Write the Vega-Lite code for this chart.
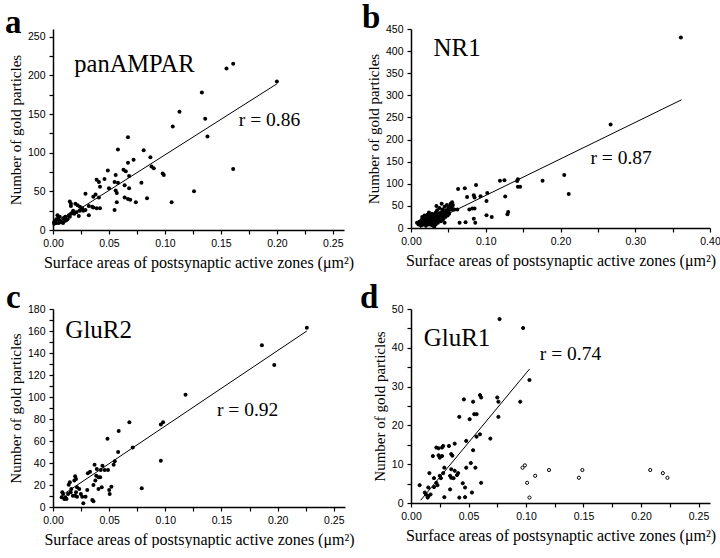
{
  "$schema": "https://vega.github.io/schema/vega-lite/v6.json",
  "background": "white",
  "padding": {"left": 5, "top": 2, "right": 0, "bottom": 0},
  "config": {
    "view": {"stroke": null},
    "scale": {"nice": false},
    "axis": {"grid": false, "tickCount": 100, "domainColor": "black", "domainWidth": 1.5, "tickColor": "black", "tickWidth": 1.2, "tickSize": 4, "labelColor": "black", "labelFont": "Liberation Sans", "labelFontSize": 10.5, "labelPadding": 4, "labelOverlap": false, "labelFlush": false, "titleFont": "Liberation Serif", "titleFontWeight": "normal", "titleColor": "black"},
    "axisX": {"titlePadding": 6, "titleFontSize": 16},
    "axisY": {"titlePadding": 4, "titleFontSize": 15},
    "title": {"font": "Liberation Serif", "fontSize": 33, "fontWeight": "bold", "color": "black", "anchor": "start", "frame": "group", "offset": -11},
    "text": {"font": "Liberation Serif", "color": "black", "align": "left", "baseline": "alphabetic"}
  },
  "datasets": {
    "a": [
      {"x":0.155,"y":209},{"x":0.161,"y":215},{"x":0.200,"y":192},{"x":0.133,"y":178},{"x":0.113,"y":153},{"x":0.136,"y":144},{"x":0.138,"y":121},{"x":0.107,"y":134},{"x":0.161,"y":79},{"x":0.126,"y":50},{"x":0.106,"y":36},
      {"x":0.067,"y":120},{"x":0.058,"y":104},{"x":0.081,"y":103},{"x":0.087,"y":94},{"x":0.072,"y":91},{"x":0.067,"y":87},{"x":0.088,"y":82},{"x":0.090,"y":80},{"x":0.049,"y":77},{"x":0.063,"y":78},{"x":0.065,"y":76},{"x":0.098,"y":73},{"x":0.099,"y":71},{"x":0.068,"y":70},{"x":0.056,"y":71},{"x":0.039,"y":65},{"x":0.041,"y":62},{"x":0.046,"y":66},{"x":0.055,"y":62},{"x":0.058,"y":61},{"x":0.079,"y":61},{"x":0.064,"y":58},{"x":0.042,"y":56},{"x":0.050,"y":54},{"x":0.068,"y":54},{"x":0.056,"y":51},{"x":0.057,"y":48},{"x":0.029,"y":47},{"x":0.038,"y":46},{"x":0.036,"y":43},{"x":0.041,"y":42},{"x":0.064,"y":42},{"x":0.067,"y":40},{"x":0.069,"y":39},{"x":0.084,"y":41},{"x":0.074,"y":36},{"x":0.057,"y":36},
      {"x":0.015,"y":37},{"x":0.016,"y":34},{"x":0.016,"y":31},{"x":0.020,"y":34},{"x":0.022,"y":32},{"x":0.024,"y":30},{"x":0.026,"y":28},{"x":0.027,"y":25},{"x":0.032,"y":31},{"x":0.035,"y":30},{"x":0.036,"y":29},{"x":0.039,"y":28},{"x":0.042,"y":28},{"x":0.055,"y":26},{"x":0.024,"y":25},{"x":0.018,"y":25},{"x":0.017,"y":22},{"x":0.021,"y":23},{"x":0.029,"y":26},{"x":0.032,"y":19},{"x":0.023,"y":18},{"x":0.016,"y":21},{"x":0.014,"y":19},{"x":0.015,"y":17},{"x":0.019,"y":21},{"x":0.011,"y":17},{"x":0.010,"y":16},{"x":0.013,"y":14},{"x":0.011,"y":12},{"x":0.009,"y":15},{"x":0.006,"y":17},{"x":0.004,"y":19},{"x":0.005,"y":16},{"x":0.003,"y":14},{"x":0.002,"y":12},{"x":0.001,"y":10},{"x":0.003,"y":9},{"x":0.006,"y":12},{"x":0.008,"y":11},{"x":0.009,"y":9},{"x":0.005,"y":9},{"x":0.001,"y":8},{"x":0.012,"y":13},{"x":0.007,"y":10}
    ],
    "b": [
      {"x":0.361,"y":431},{"x":0.267,"y":234},{"x":0.205,"y":120},{"x":0.211,"y":77},{"x":0.176,"y":107},{"x":0.143,"y":110},{"x":0.142,"y":106},{"x":0.143,"y":93},{"x":0.146,"y":93},{"x":0.119,"y":107},{"x":0.125,"y":108},{"x":0.126,"y":71},{"x":0.130,"y":36},{"x":0.129,"y":31},
      {"x":0.102,"y":79},{"x":0.101,"y":61},{"x":0.101,"y":29},{"x":0.108,"y":25},{"x":0.087,"y":97},{"x":0.072,"y":90},{"x":0.084,"y":74},{"x":0.085,"y":69},{"x":0.093,"y":72},{"x":0.082,"y":44},{"x":0.085,"y":44},{"x":0.073,"y":13},{"x":0.084,"y":21},{"x":0.086,"y":12},{"x":0.078,"y":42},{"x":0.075,"y":70},{"x":0.065,"y":12},{"x":0.063,"y":88},{"x":0.062,"y":42},{"x":0.058,"y":42},
      {"x":0.008,"y":12},{"x":0.010,"y":8},{"x":0.011,"y":14},{"x":0.012,"y":10},{"x":0.013,"y":6},{"x":0.014,"y":18},{"x":0.015,"y":12},{"x":0.015,"y":25},{"x":0.016,"y":8},{"x":0.017,"y":20},{"x":0.018,"y":15},{"x":0.018,"y":28},{"x":0.019,"y":10},{"x":0.020,"y":22},{"x":0.020,"y":5},{"x":0.021,"y":18},{"x":0.022,"y":30},{"x":0.022,"y":12},{"x":0.023,"y":25},{"x":0.024,"y":8},{"x":0.024,"y":35},{"x":0.025,"y":20},{"x":0.025,"y":15},{"x":0.026,"y":28},{"x":0.027,"y":12},{"x":0.027,"y":22},{"x":0.028,"y":6},{"x":0.028,"y":32},{"x":0.029,"y":18},{"x":0.030,"y":25},{"x":0.030,"y":10},{"x":0.031,"y":3},{"x":0.031,"y":30},{"x":0.032,"y":15},{"x":0.032,"y":22},{"x":0.033,"y":8},{"x":0.033,"y":35},{"x":0.034,"y":28},{"x":0.034,"y":50},{"x":0.035,"y":18},{"x":0.035,"y":40},{"x":0.036,"y":25},{"x":0.036,"y":12},{"x":0.037,"y":32},{"x":0.038,"y":20},{"x":0.038,"y":45},{"x":0.039,"y":28},{"x":0.040,"y":35},{"x":0.040,"y":15},{"x":0.041,"y":55},{"x":0.042,"y":25},{"x":0.042,"y":42},{"x":0.043,"y":30},{"x":0.043,"y":20},{"x":0.044,"y":38},{"x":0.045,"y":48},{"x":0.045,"y":12},{"x":0.046,"y":30},{"x":0.046,"y":25},{"x":0.047,"y":40},{"x":0.048,"y":35},{"x":0.048,"y":52},{"x":0.049,"y":28},{"x":0.050,"y":45},{"x":0.050,"y":38},{"x":0.051,"y":32},{"x":0.052,"y":50},{"x":0.053,"y":55},{"x":0.054,"y":42},{"x":0.055,"y":58},{"x":0.055,"y":48},{"x":0.056,"y":52}
    ],
    "c": [
      {"x":0.226,"y":163},{"x":0.186,"y":147},{"x":0.197,"y":129},{"x":0.118,"y":102},{"x":0.096,"y":75},{"x":0.098,"y":77},{"x":0.096,"y":42},{"x":0.068,"y":77},
      {"x":0.0585,"y":69},{"x":0.0485,"y":62},{"x":0.058,"y":50},{"x":0.071,"y":54},{"x":0.079,"y":17},{"x":0.054,"y":38.5},{"x":0.055,"y":41.5},{"x":0.037,"y":38.5},{"x":0.031,"y":30.6},{"x":0.033,"y":32},{"x":0.0425,"y":33.6},{"x":0.044,"y":37.6},{"x":0.046,"y":33.6},{"x":0.049,"y":33.6},{"x":0.039,"y":34.5},{"x":0.0385,"y":28.5},{"x":0.0405,"y":27},{"x":0.042,"y":27},{"x":0.052,"y":18.5},{"x":0.050,"y":15.5},{"x":0.0505,"y":11.8},{"x":0.036,"y":20},{"x":0.0377,"y":24},{"x":0.0405,"y":16.4},{"x":0.0434,"y":17.9},{"x":0.035,"y":6.4},{"x":0.036,"y":5.2},{"x":0.029,"y":9.4},{"x":0.0305,"y":15.5},{"x":0.027,"y":3.3},{"x":0.0205,"y":25.5},{"x":0.0197,"y":27.9},{"x":0.019,"y":24},{"x":0.015,"y":22.4},{"x":0.014,"y":20.3},{"x":0.0214,"y":17.9},{"x":0.0234,"y":16.4},{"x":0.0163,"y":16.4},{"x":0.0157,"y":13.3},{"x":0.0177,"y":10.3},{"x":0.0134,"y":11.8},{"x":0.011,"y":8.8},{"x":0.0083,"y":13.3},{"x":0.009,"y":11.8},{"x":0.0077,"y":8.8},{"x":0.010,"y":7.3},{"x":0.012,"y":7.3},{"x":0.0248,"y":11.8},{"x":0.026,"y":9.4},{"x":0.0205,"y":13.3},{"x":0.0197,"y":10.3},{"x":0.0214,"y":9.4}
    ],
    "d": [
      {"x":0.077,"y":47.4,"k":"filled"},{"x":0.0975,"y":45.1,"k":"filled"},{"x":0.103,"y":31.7,"k":"filled"},{"x":0.095,"y":26.1,"k":"filled"},{"x":0.046,"y":26.7,"k":"filled"},{"x":0.054,"y":26.1,"k":"filled"},{"x":0.060,"y":27.8,"k":"filled"},{"x":0.061,"y":27.2,"k":"filled"},{"x":0.075,"y":27.2,"k":"filled"},{"x":0.076,"y":26.1,"k":"filled"},{"x":0.076,"y":22.2,"k":"filled"},{"x":0.042,"y":22.2,"k":"filled"},{"x":0.051,"y":21.6,"k":"filled"},{"x":0.055,"y":22.9,"k":"filled"},{"x":0.057,"y":22.9,"k":"filled"},{"x":0.069,"y":16.6,"k":"filled"},{"x":0.060,"y":17.7,"k":"filled"},{"x":0.057,"y":17.1,"k":"filled"},{"x":0.048,"y":16.0,"k":"filled"},{"x":0.054,"y":13.6,"k":"filled"},{"x":0.052,"y":10.3,"k":"filled"},{"x":0.056,"y":9.1,"k":"filled"},{"x":0.048,"y":9.1,"k":"filled"},{"x":0.061,"y":5.2,"k":"filled"},{"x":0.053,"y":2.7,"k":"filled"},{"x":0.047,"y":1.5,"k":"filled"},{"x":0.047,"y":4.0,"k":"filled"},{"x":0.045,"y":5.1,"k":"filled"},{"x":0.042,"y":1.4,"k":"filled"},{"x":0.040,"y":7.2,"k":"filled"},{"x":0.041,"y":7.7,"k":"filled"},{"x":0.037,"y":6.4,"k":"filled"},{"x":0.034,"y":3.5,"k":"filled"},{"x":0.038,"y":8.3,"k":"filled"},{"x":0.035,"y":8.7,"k":"filled"},{"x":0.035,"y":12.6,"k":"filled"},{"x":0.036,"y":12.2,"k":"filled"},{"x":0.038,"y":15.3,"k":"filled"},{"x":0.029,"y":1.5,"k":"filled"},{"x":0.029,"y":9.1,"k":"filled"},{"x":0.025,"y":11.7,"k":"filled"},{"x":0.024,"y":12.3,"k":"filled"},{"x":0.027,"y":12.1,"k":"filled"},{"x":0.028,"y":14.7,"k":"filled"},{"x":0.027,"y":14.3,"k":"filled"},{"x":0.024,"y":14.1,"k":"filled"},{"x":0.022,"y":14.3,"k":"filled"},{"x":0.033,"y":14.7,"k":"filled"},{"x":0.019,"y":12.1,"k":"filled"},{"x":0.028,"y":7.7,"k":"filled"},{"x":0.026,"y":6.4,"k":"filled"},{"x":0.023,"y":4.6,"k":"filled"},{"x":0.025,"y":7.0,"k":"filled"},{"x":0.020,"y":6.4,"k":"filled"},{"x":0.016,"y":7.7,"k":"filled"},{"x":0.022,"y":5.2,"k":"filled"},{"x":0.020,"y":4.1,"k":"filled"},{"x":0.015,"y":4.0,"k":"filled"},{"x":0.0075,"y":4.6,"k":"filled"},{"x":0.013,"y":2.2,"k":"filled"},{"x":0.0145,"y":1.4,"k":"filled"},{"x":0.015,"y":1.8,"k":"filled"},{"x":0.017,"y":2.2,"k":"filled"},{"x":0.012,"y":2.7,"k":"filled"},{"x":0.034,"y":7.0,"k":"filled"},{"x":0.035,"y":6.5,"k":"filled"},
      {"x":0.097,"y":9.1,"k":"open"},{"x":0.099,"y":9.7,"k":"open"},{"x":0.101,"y":5.2,"k":"open"},{"x":0.103,"y":1.4,"k":"open"},{"x":0.108,"y":7.0,"k":"open"},{"x":0.120,"y":8.5,"k":"open"},{"x":0.146,"y":6.5,"k":"open"},{"x":0.149,"y":8.5,"k":"open"},{"x":0.208,"y":8.5,"k":"open"},{"x":0.219,"y":7.7,"k":"open"},{"x":0.223,"y":6.5,"k":"open"}
    ],
    "fits": [
      {"p":"a","x":0.003,"y":8},{"p":"a","x":0.2,"y":189},
      {"p":"b","x":0.012,"y":1},{"p":"b","x":0.362,"y":290},
      {"p":"c","x":0.011,"y":12.7},{"p":"c","x":0.226,"y":160},
      {"p":"d","x":0.0084,"y":0.7},{"p":"d","x":0.103,"y":34.5}
    ]
  },
  "columns": 2,
  "spacing": {"row": 79, "column": 66},
  "bounds": "flush",
  "concat": [
    {
      "width": 291, "height": 201,
      "title": {"text": "a", "dx": -48},
      "layer": [
        {"data": {"name": "a"}, "mark": {"type": "circle", "size": 16, "color": "black", "opacity": 1},
         "encoding": {
           "x": {"field": "x", "type": "quantitative", "scale": {"domain": [0, 0.25]}, "axis": {"title": "Surface areas of postsynaptic active zones (μm²)", "values": [0,0.025,0.05,0.075,0.1,0.125,0.15,0.175,0.2,0.225,0.25], "labelExpr": "abs(round(datum.value*20) - datum.value*20) < 0.001 ? format(datum.value, '.2f') : ''"}},
           "y": {"field": "y", "type": "quantitative", "scale": {"domain": [0, 250]}, "axis": {"title": "Number of gold particles", "values": [0,25,50,75,100,125,150,175,200,225,250], "labelExpr": "datum.value % 50 == 0 ? format(datum.value, 'd') : ''"}}
         }},
        {"data": {"name": "fits"}, "transform": [{"filter": "datum.p == 'a'"}], "mark": {"type": "line", "color": "black", "strokeWidth": 1},
         "encoding": {"x": {"field": "x", "type": "quantitative"}, "y": {"field": "y", "type": "quantitative"}}},
        {"data": {"values": [{}]}, "mark": {"type": "text", "fontSize": 24.5}, "encoding": {"x": {"datum": 0.019}, "y": {"datum": 205}, "text": {"value": "panAMPAR"}}},
        {"data": {"values": [{}]}, "mark": {"type": "text", "fontSize": 19.5}, "encoding": {"x": {"datum": 0.166}, "y": {"datum": 134.7}, "text": {"value": "r = 0.86"}}}
      ]
    },
    {
      "width": 299, "height": 199,
      "title": {"text": "b", "dx": -49},
      "layer": [
        {"data": {"name": "b"}, "mark": {"type": "circle", "size": 16, "color": "black", "opacity": 1},
         "encoding": {
           "x": {"field": "x", "type": "quantitative", "scale": {"domain": [0, 0.4]}, "axis": {"title": "Surface areas of postsynaptic active zones (μm²)", "values": [0,0.05,0.1,0.15,0.2,0.25,0.3,0.35,0.4], "labelExpr": "abs(round(datum.value*10) - datum.value*10) < 0.001 ? format(datum.value, '.2f') : ''"}},
           "y": {"field": "y", "type": "quantitative", "scale": {"domain": [0, 450]}, "axis": {"title": "Number of gold particles", "values": [0,50,100,150,200,250,300,350,400,450], "labelExpr": "format(datum.value, 'd')"}}
         }},
        {"data": {"name": "fits"}, "transform": [{"filter": "datum.p == 'b'"}], "mark": {"type": "line", "color": "black", "strokeWidth": 1},
         "encoding": {"x": {"field": "x", "type": "quantitative"}, "y": {"field": "y", "type": "quantitative"}}},
        {"data": {"values": [{}]}, "mark": {"type": "text", "fontSize": 25}, "encoding": {"x": {"datum": 0.03}, "y": {"datum": 390}, "text": {"value": "NR1"}}},
        {"data": {"values": [{}]}, "mark": {"type": "text", "fontSize": 19.5}, "encoding": {"x": {"datum": 0.24}, "y": {"datum": 145}, "text": {"value": "r = 0.87"}}}
      ]
    },
    {
      "width": 292, "height": 198,
      "title": {"text": "c", "dx": -47},
      "layer": [
        {"data": {"name": "c"}, "mark": {"type": "circle", "size": 16, "color": "black", "opacity": 1},
         "encoding": {
           "x": {"field": "x", "type": "quantitative", "scale": {"domain": [0, 0.25]}, "axis": {"title": "Surface areas of postsynaptic active zones (μm²)", "values": [0,0.025,0.05,0.075,0.1,0.125,0.15,0.175,0.2,0.225,0.25], "labelExpr": "abs(round(datum.value*20) - datum.value*20) < 0.001 ? format(datum.value, '.2f') : ''"}},
           "y": {"field": "y", "type": "quantitative", "scale": {"domain": [0, 180]}, "axis": {"title": "Number of gold particles", "values": [0,10,20,30,40,50,60,70,80,90,100,110,120,130,140,150,160,170,180], "labelExpr": "datum.value % 20 == 0 ? format(datum.value, 'd') : ''"}}
         }},
        {"data": {"name": "fits"}, "transform": [{"filter": "datum.p == 'c'"}], "mark": {"type": "line", "color": "black", "strokeWidth": 1},
         "encoding": {"x": {"field": "x", "type": "quantitative"}, "y": {"field": "y", "type": "quantitative"}}},
        {"data": {"values": [{}]}, "mark": {"type": "text", "fontSize": 25}, "encoding": {"x": {"datum": 0.011}, "y": {"datum": 153.6}, "text": {"value": "GluR2"}}},
        {"data": {"values": [{}]}, "mark": {"type": "text", "fontSize": 19.5}, "encoding": {"x": {"datum": 0.146}, "y": {"datum": 83}, "text": {"value": "r = 0.92"}}}
      ]
    },
    {
      "width": 299, "height": 194,
      "title": {"text": "d", "dx": -51},
      "layer": [
        {"data": {"name": "d"}, "mark": {"type": "point", "filled": false, "size": 10, "shape": "circle", "opacity": 1},
         "encoding": {
           "x": {"field": "x", "type": "quantitative", "scale": {"domain": [0, 0.25]}, "axis": {"title": "Surface areas of postsynaptic active zones (μm²)", "values": [0,0.025,0.05,0.075,0.1,0.125,0.15,0.175,0.2,0.225,0.25], "labelExpr": "abs(round(datum.value*20) - datum.value*20) < 0.001 ? format(datum.value, '.2f') : ''"}},
           "y": {"field": "y", "type": "quantitative", "scale": {"domain": [0, 50]}, "axis": {"title": "Number of gold particles", "values": [0,5,10,15,20,25,30,35,40,45,50], "labelExpr": "datum.value % 10 == 0 ? format(datum.value, 'd') : ''"}},
           "fill": {"field": "k", "type": "nominal", "scale": {"domain": ["filled", "open"], "range": ["black", "white"]}, "legend": null},
           "stroke": {"value": "black"},
           "strokeWidth": {"value": 1}
         }},
        {"data": {"name": "fits"}, "transform": [{"filter": "datum.p == 'd'"}], "mark": {"type": "line", "color": "black", "strokeWidth": 1},
         "encoding": {"x": {"field": "x", "type": "quantitative"}, "y": {"field": "y", "type": "quantitative"}}},
        {"data": {"values": [{}]}, "mark": {"type": "text", "fontSize": 25}, "encoding": {"x": {"datum": 0.011}, "y": {"datum": 40.5}, "text": {"value": "GluR1"}}},
        {"data": {"values": [{}]}, "mark": {"type": "text", "fontSize": 19.5}, "encoding": {"x": {"datum": 0.112}, "y": {"datum": 36.8}, "text": {"value": "r = 0.74"}}}
      ]
    }
  ],
  "resolve": {"scale": {"x": "independent", "y": "independent"}}
}
